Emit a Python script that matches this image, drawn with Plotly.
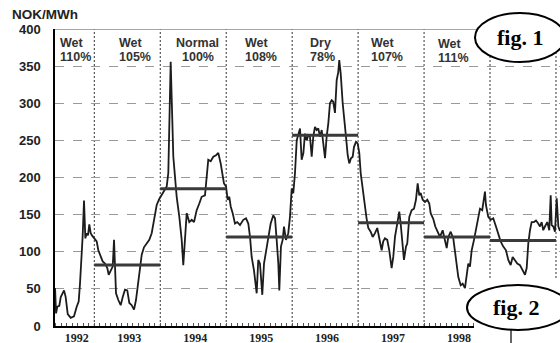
import plotly.graph_objects as go

# ---- data ----
DATES = [1992.405, 1992.42, 1992.439, 1992.469, 1992.491, 1992.541, 1992.566, 1992.597, 1992.642, 1992.692,
         1992.733, 1992.763, 1992.783, 1992.809, 1992.824, 1992.844, 1992.864, 1992.885, 1992.904, 1992.924,
         1992.945, 1992.965, 1992.995, 1993.036, 1993.061, 1993.086, 1993.127, 1993.162, 1993.197, 1993.218,
         1993.253, 1993.279, 1993.299, 1993.314, 1993.329, 1993.364, 1993.400, 1993.431, 1993.465, 1993.500,
         1993.531, 1993.567, 1993.602, 1993.632, 1993.667, 1993.693, 1993.719, 1993.753, 1993.794, 1993.834,
         1993.870, 1993.905, 1993.946, 1993.985, 1994.016, 1994.046, 1994.098, 1994.122, 1994.158, 1994.198,
         1994.249, 1994.289, 1994.325, 1994.349, 1994.375, 1994.401, 1994.440, 1994.477, 1994.512, 1994.552,
         1994.592, 1994.628, 1994.678, 1994.704, 1994.728, 1994.765, 1994.804, 1994.845, 1994.880, 1994.916,
         1994.947, 1994.966, 1994.997, 1995.022, 1995.047, 1995.068, 1995.098, 1995.133, 1995.168, 1995.209,
         1995.259, 1995.300, 1995.335, 1995.361, 1995.386, 1995.421, 1995.462, 1995.486, 1995.512, 1995.547,
         1995.573, 1995.603, 1995.638, 1995.674, 1995.714, 1995.740, 1995.765, 1995.790, 1995.805, 1995.830,
         1995.856, 1995.876, 1995.906, 1995.941, 1995.967, 1995.993, 1996.017, 1996.043, 1996.069, 1996.093,
         1996.119, 1996.144, 1996.170, 1996.194, 1996.220, 1996.244, 1996.270, 1996.296, 1996.320, 1996.346,
         1996.372, 1996.396, 1996.422, 1996.448, 1996.472, 1996.498, 1996.523, 1996.548, 1996.573, 1996.599,
         1996.623, 1996.649, 1996.675, 1996.699, 1996.714, 1996.736, 1996.766, 1996.790, 1996.816, 1996.842,
         1996.866, 1996.892, 1996.918, 1996.937, 1996.968, 1996.993, 1997.018, 1997.039, 1997.069, 1997.104,
         1997.128, 1997.154, 1997.190, 1997.221, 1997.256, 1997.290, 1997.321, 1997.357, 1997.381, 1997.407,
         1997.442, 1997.472, 1997.508, 1997.533, 1997.559, 1997.594, 1997.624, 1997.645, 1997.676, 1997.695,
         1997.726, 1997.745, 1997.776, 1997.812, 1997.847, 1997.877, 1997.903, 1997.927, 1997.948, 1997.979,
         1998.014, 1998.049, 1998.079, 1998.100, 1998.140, 1998.170, 1998.205, 1998.241, 1998.282, 1998.317,
         1998.343, 1998.367, 1998.404, 1998.443, 1998.484, 1998.519, 1998.555, 1998.585, 1998.620, 1998.646,
         1998.670, 1998.696, 1998.722, 1998.757, 1998.787, 1998.822, 1998.848, 1998.882, 1998.908, 1998.923,
         1998.938, 1998.973, 1999.010, 1999.049, 1999.090, 1999.125, 1999.161, 1999.201, 1999.242, 1999.277,
         1999.313, 1999.343, 1999.378, 1999.413, 1999.454, 1999.495, 1999.530, 1999.556, 1999.580, 1999.606,
         1999.631, 1999.666, 1999.697, 1999.731, 1999.757, 1999.783, 1999.807, 1999.833, 1999.868, 1999.898,
         1999.920, 1999.935, 1999.959, 1999.985, 2000.011, 2000.036, 2000.061]
PRICES = [51, 17, 26, 27, 39, 48, 39, 16, 11, 13,
          26, 33, 57, 93, 122, 169, 118, 125, 122, 137,
          125, 122, 118, 114, 102, 96, 87, 84, 78, 69,
          75, 80, 116, 80, 44, 35, 28, 39, 49, 48,
          31, 28, 22, 35, 57, 75, 96, 106, 112, 116,
          125, 143, 163, 171, 176, 181, 188, 206, 356, 228,
          174, 147, 116, 82, 125, 152, 140, 143, 140, 156,
          165, 174, 176, 206, 224, 222, 228, 230, 233, 219,
          201, 192, 188, 170, 174, 161, 152, 138, 140, 136,
          143, 145, 138, 120, 93, 75, 44, 89, 84, 42,
          84, 100, 120, 138, 149, 145, 116, 84, 48, 107,
          116, 134, 116, 125, 147, 185, 179, 206, 250, 259,
          266, 224, 233, 259, 250, 257, 255, 228, 255, 268,
          264, 266, 255, 264, 241, 226, 255, 273, 300, 304,
          302, 287, 331, 342, 358, 340, 300, 273, 255, 230,
          219, 226, 228, 241, 248, 246, 233, 206, 183, 161,
          145, 132, 127, 120, 125, 132, 116, 102, 114, 118,
          116, 102, 78, 93, 120, 140, 154, 138, 107, 89,
          107, 111, 147, 156, 158, 170, 192, 176, 179, 170,
          167, 170, 165, 152, 144, 134, 127, 120, 129, 116,
          105, 120, 127, 118, 89, 66, 55, 57, 51, 66,
          84, 80, 102, 116, 129, 147, 158, 156, 174, 181,
          163, 147, 143, 145, 134, 125, 114, 107, 102, 89,
          82, 93, 89, 84, 82, 75, 69, 78, 111, 129,
          140, 140, 142, 138, 134, 140, 129, 134, 140, 129,
          176, 136, 134, 127, 172, 134, 128]

AVG_YEARS = [1993, 1994, 1995, 1996, 1997, 1998, 1999]
AVG_PRICES = [82, 185, 120, 257, 139, 120, 115]

HYD_YEARS = [1992, 1993, 1994, 1995, 1996, 1997, 1998]
HYD_TYPES = ["Wet", "Wet", "Normal", "Wet", "Dry", "Wet", "Wet"]
HYD_PCTS = ["110%", "105%", "100%", "108%", "78%", "107%", "111%"]

YEAR_LABELS = ["1992", "1993", "1994", "1995", "1996", "1997", "1998"]
Y_TICKS = [0, 50, 100, 150, 200, 250, 300, 350, 400]

# ---- geometry helpers (pixel -> paper) ----
L, R, T, B, W, H = 55, 0, 29, 17, 560, 343
PW, PH = W - L - R, H - T - B
def px(x):
    return (x - L) / PW
def py(y):
    return (H - B - y) / PH

SANS = "Liberation Sans, Arial, sans-serif"
SERIF = "Liberation Serif, Times New Roman, serif"

fig = go.Figure()
fig.add_trace(go.Scatter(x=DATES, y=PRICES, mode="lines",
                         line=dict(color="#1c1c1c", width=1.8), hoverinfo="skip"))
for yr, a in zip(AVG_YEARS, AVG_PRICES):
    fig.add_trace(go.Scatter(x=[yr, yr + 1], y=[a, a], mode="lines",
                             line=dict(color="#3a3a3a", width=3), hoverinfo="skip"))

# year separators
for yr in range(1993, 2001):
    fig.add_shape(type="line", xref="x", yref="y", x0=yr, x1=yr, y0=0, y1=400,
                  line=dict(color="#333", width=1, dash="2px,2px"), layer="below")
# top border
fig.add_shape(type="line", xref="paper", yref="y", x0=0, x1=1, y0=400, y1=400,
              line=dict(color="#8a8a8a", width=1.5))

# hydrological year labels
label_x = [1992.45, 1993.35, 1994.57, 1995.25, 1996.24, 1997.17, 1998.18]
for i, (t, p) in enumerate(zip(HYD_TYPES, HYD_PCTS)):
    anchor = "center" if t == "Normal" else "left"
    dy = 1 if i == 6 else 0
    for txt, ypix in ((t, 43 + dy), (p, 57 + dy)):
        fig.add_annotation(x=label_x[i], y=py(ypix), xref="x", yref="paper",
                           text=txt, showarrow=False, xanchor=anchor, yanchor="middle",
                           font=dict(family=SANS, size=12.5, color="#333", weight=700))

# unit label
fig.add_annotation(x=px(10), y=py(15), xref="paper", yref="paper", text="NOK/MWh",
                   showarrow=False, xanchor="left", yanchor="middle",
                   font=dict(family=SANS, size=13.5, color="#222", weight=700))

# pasted-over patch and figure callouts
fig.add_shape(type="rect", xref="paper", yref="paper", x0=px(474), x1=px(575),
              y0=py(360), y1=py(278), fillcolor="white", line=dict(width=0), layer="above")
fig.add_shape(type="line", xref="paper", yref="paper", x0=px(511), x1=px(511),
              y0=py(330), y1=py(360), line=dict(color="#333", width=1.5), layer="above")
fig.add_shape(type="circle", xref="paper", yref="paper", x0=px(475), x1=px(565),
              y0=py(62), y1=py(13), fillcolor="white", line=dict(color="black", width=2), layer="above")
fig.add_shape(type="circle", xref="paper", yref="paper", x0=px(467), x1=px(569),
              y0=py(330), y1=py(285), fillcolor="white", line=dict(color="black", width=2), layer="above")
fig.add_annotation(x=px(520), y=py(37.5), xref="paper", yref="paper", text="fig. 1",
                   showarrow=False, xanchor="center", yanchor="middle",
                   font=dict(family=SERIF, size=22, color="black", weight=700))
fig.add_annotation(x=px(516), y=py(307.5), xref="paper", yref="paper", text="fig. 2",
                   showarrow=False, xanchor="center", yanchor="middle",
                   font=dict(family=SERIF, size=22, color="black", weight=700))

tickvals = []
for lab in YEAR_LABELS:
    y0 = max(int(lab), 1992.404)
    tickvals.append((y0 + int(lab) + 1) / 2 + 0.03)

fig.update_layout(
    width=W, height=H, margin=dict(l=L, r=R, t=T, b=B, autoexpand=False),
    paper_bgcolor="white", plot_bgcolor="white", showlegend=False,
    xaxis=dict(range=[1992.404, 2000.061], showgrid=False, zeroline=False, automargin=False,
               showline=True, linecolor="black", linewidth=1.5,
               tickmode="array", tickvals=tickvals, ticktext=YEAR_LABELS, ticks="",
               ticklabelstandoff=0,
               tickfont=dict(family=SERIF, size=12, color="#222", weight=700),
               minor=dict(tickmode="linear", tick0=1993, dtick=1 / 12, ticks="inside",
                          ticklen=3, tickcolor="#555", showgrid=False)),
    yaxis=dict(range=[0, 400], tickmode="array", tickvals=Y_TICKS, showgrid=True, automargin=False,
               gridcolor="#9a9a9a", griddash="dash", gridwidth=1, zeroline=False,
               showline=True, linecolor="black", linewidth=1.5, ticks="",
               ticklabelstandoff=10,
               tickfont=dict(family=SANS, size=13, color="#222", weight=700)),
)

fig.write_html("out.html", config={"displayModeBar": False},
               post_script="document.body.style.margin='0';document.body.style.overflow='hidden';")
